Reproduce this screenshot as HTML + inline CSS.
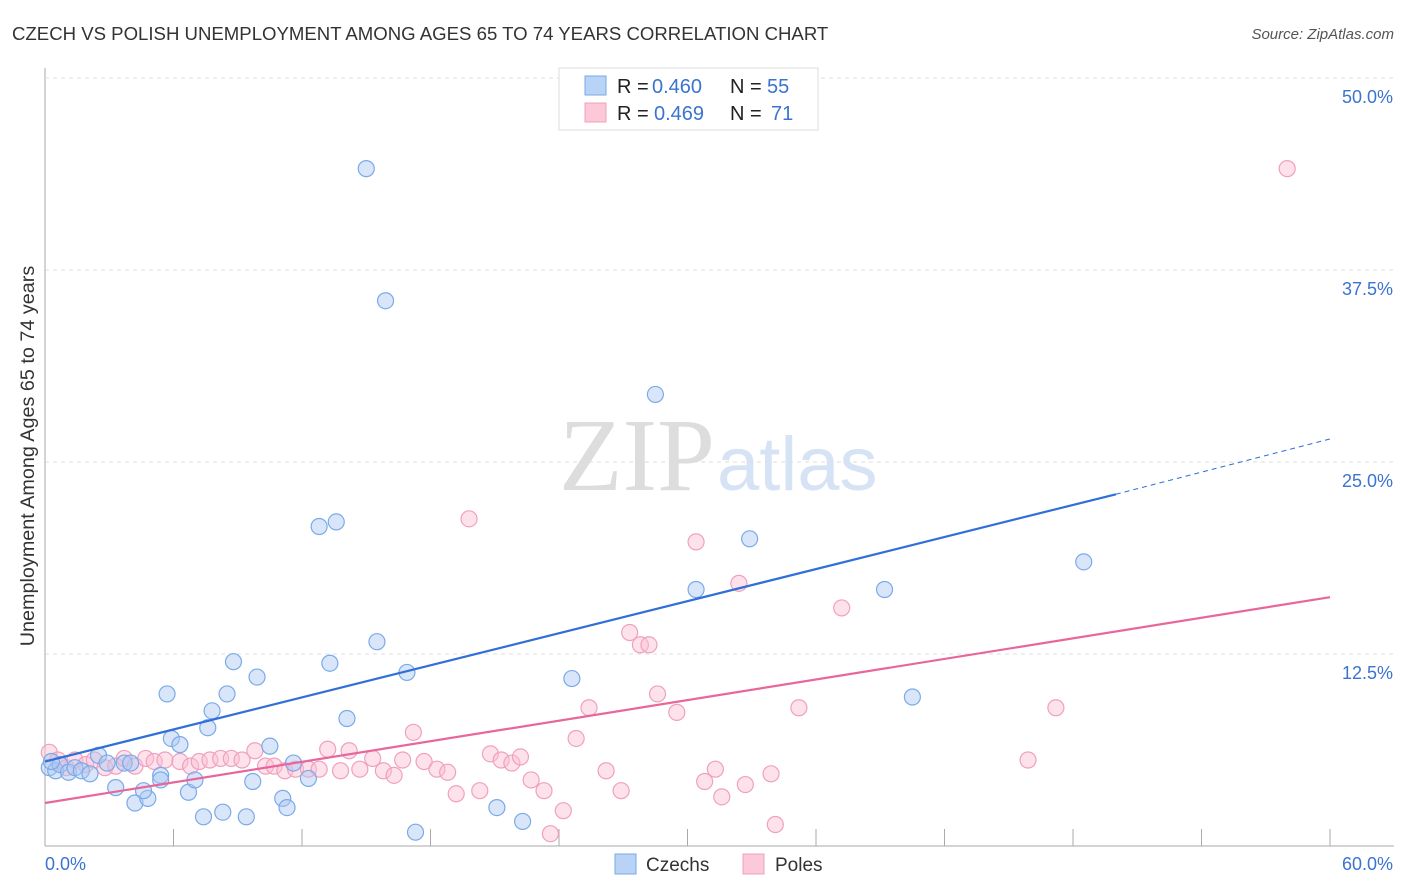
<!DOCTYPE html>
<html><head><meta charset="utf-8"><style>
body{margin:0;background:#fff;font-family:"Liberation Sans",sans-serif;}
svg{display:block}
</style></head><body>
<svg id="c" width="1406" height="892">
<text x="12" y="40" font-size="18.6" fill="#333">CZECH VS POLISH UNEMPLOYMENT AMONG AGES 65 TO 74 YEARS CORRELATION CHART</text>
<text x="1394" y="39" font-size="15" fill="#555" text-anchor="end" font-style="italic">Source: ZipAtlas.com</text>
<text x="715" y="490" font-size="104" fill="#ddd" text-anchor="end" font-family="Liberation Serif">ZIP</text>
<text x="717" y="490" font-size="76" fill="#d6e3f5">atlas</text>
<g id="grid"></g>
<g id="pts"></g>
<g id="lines"></g>
<text transform="translate(34,456) rotate(-90)" font-size="19.8" fill="#333" text-anchor="middle">Unemployment Among Ages 65 to 74 years</text>
<g>
<rect x="559" y="68" width="259" height="62" fill="#fff" stroke="#ddd"/>
<rect x="585" y="76" width="21" height="19" fill="#b8d3f5" stroke="#7aaae8"/>
<rect x="585" y="103" width="21" height="19" fill="#fcc9d8" stroke="#f0a0bd"/>
<text x="617" y="93" font-size="20" fill="#222">R =</text>
<text x="652" y="93" font-size="20" fill="#3b73d1">0.460</text>
<text x="730" y="93" font-size="20" fill="#222">N =</text>
<text x="767" y="93" font-size="20" fill="#3b73d1">55</text>
<text x="617" y="120" font-size="20" fill="#222">R =</text>
<text x="654" y="120" font-size="20" fill="#3b73d1">0.469</text>
<text x="730" y="120" font-size="20" fill="#222">N =</text>
<text x="771" y="120" font-size="20" fill="#3b73d1">71</text>
</g>
<g>
<rect x="615" y="854" width="21" height="20" fill="#b8d3f5" stroke="#7aaae8"/>
<text x="646" y="871" font-size="19" fill="#333">Czechs</text>
<rect x="743" y="854" width="21" height="20" fill="#fcc9d8" stroke="#f0a0bd"/>
<text x="775" y="871" font-size="19" fill="#333">Poles</text>
</g>
</svg>
<script>
const NS="http://www.w3.org/2000/svg";
const yTicks=[12.5,25,37.5,50];
const yTickLabels=["12.5%","25.0%","37.5%","50.0%"];
const xTicks=[0,6,12,18,24,30,36,42,48,54,60];
const czechX=[0.2,0.5,0.7,1.1,1.4,1.7,2.1,2.5,2.9,3.3,3.7,4.0,4.2,4.8,4.6,5.4,5.7,5.9,6.3,5.4,6.7,7.0,7.4,7.6,7.8,8.3,8.5,8.8,9.4,9.7,9.9,10.5,11.1,11.3,11.6,12.3,12.8,13.6,14.1,13.3,15.0,15.9,15.5,16.9,17.3,21.1,22.3,24.6,28.5,30.4,32.9,39.2,40.5,48.5,0.3];
const czechY=[5.1,4.9,5.3,4.8,5.1,4.9,4.7,5.9,5.4,3.8,5.4,5.4,2.8,3.1,3.6,4.6,9.9,7.0,6.6,4.3,3.5,4.3,1.9,7.7,8.8,2.2,9.9,12.0,1.9,4.2,11.0,6.5,3.1,2.5,5.4,4.4,20.8,21.1,8.3,11.9,44.1,35.5,13.3,11.3,0.9,2.5,1.6,10.9,29.4,16.7,20.0,16.7,9.7,18.5,5.5];
const polesX=[0.2,0.6,1.0,1.4,1.9,2.3,2.8,3.3,3.7,4.2,4.7,5.1,5.6,6.3,6.8,7.2,7.7,8.2,8.7,9.2,9.8,10.3,10.7,11.2,11.7,12.3,12.8,13.2,13.8,14.2,14.7,15.3,15.8,16.3,16.7,17.2,17.7,18.3,18.8,19.2,19.8,20.3,20.8,21.3,21.8,22.2,22.7,23.3,23.6,24.2,24.8,25.4,26.2,26.9,27.3,27.8,28.2,28.6,29.5,30.4,30.8,31.3,31.6,32.4,32.7,33.9,34.1,35.2,37.2,45.9,47.2,58.0];
const polesY=[6.1,5.6,5.1,5.6,5.3,5.6,5.1,5.2,5.7,5.2,5.7,5.5,5.6,5.5,5.2,5.5,5.6,5.7,5.7,5.6,6.2,5.2,5.2,4.9,5.0,5.0,5.0,6.3,4.9,6.2,5.0,5.7,4.9,4.6,5.6,7.4,5.5,5.0,4.8,3.4,21.3,3.6,6.0,5.6,5.4,5.8,4.3,3.6,0.8,2.3,7.0,9.0,4.9,3.6,13.9,13.1,13.1,9.9,8.7,19.8,4.2,5.0,3.2,17.1,4.0,4.7,1.4,9.0,15.5,5.6,9.0,44.1];
const X=v=>45+v*21.417, Y=v=>846-v*15.36;
function mk(t,a,p){const e=document.createElementNS(NS,t);for(const k in a)e.setAttribute(k,a[k]);p.appendChild(e);return e;}
const g=document.getElementById('grid');
yTicks.forEach((t,i)=>{
 const l=mk('line',{x1:45,x2:1394,y1:Y(t),y2:Y(t),stroke:'#ddd','stroke-dasharray':'4,4'},g);
 
 
 const tx=mk('text',{x:1393,y:Y(t)+25,'font-size':18,fill:'#3b73d1','text-anchor':'end'},g);tx.textContent=yTickLabels[i];
 
 
});
mk('line',{x1:45,x2:45,y1:68,y2:846,stroke:'#aaa'},g);
mk('line',{x1:45,x2:1394,y1:846,y2:846,stroke:'#aaa'},g);
mk('line',{x1:45,x2:1394,y1:78,y2:78,stroke:'#ddd','stroke-dasharray':'4,4'},g);
xTicks.forEach(t=>{mk('line',{x1:X(t),x2:X(t),y1:829,y2:846,stroke:'#aaa'},g);});
let t0=mk('text',{x:45,y:870,'font-size':18,fill:'#3b73d1'},g);t0.textContent='0.0%';


let t1=mk('text',{x:1393,y:870,'font-size':18,fill:'#3b73d1','text-anchor':'end'},g);t1.textContent='60.0%';


const p=document.getElementById('pts');
polesX.forEach((x,i)=>{const c=mk('circle',{cx:X(x),cy:Y(polesY[i]),r:8,fill:'rgba(250,190,210,0.45)',stroke:'#f0a0bd','stroke-width':1.2},p);
 
 });
czechX.forEach((x,i)=>{const c=mk('circle',{cx:X(x),cy:Y(czechY[i]),r:8,fill:'rgba(170,200,245,0.45)',stroke:'#7aaae8','stroke-width':1.2},p);
 
 });
const L=document.getElementById('lines');
let a=mk('line',{x1:X(0),y1:Y(5.5),x2:X(50),y2:Y(22.9),stroke:'#2f6fd6','stroke-width':2.2},L);


mk('line',{x1:X(50),y1:Y(22.9),x2:X(60),y2:Y(26.5),stroke:'#2f6fd6','stroke-width':1,'stroke-dasharray':'5,4'},L);
let b=mk('line',{x1:X(0),y1:Y(2.8),x2:X(60),y2:Y(16.2),stroke:'#e8679a','stroke-width':2.2},L);


</script>
</body></html>
